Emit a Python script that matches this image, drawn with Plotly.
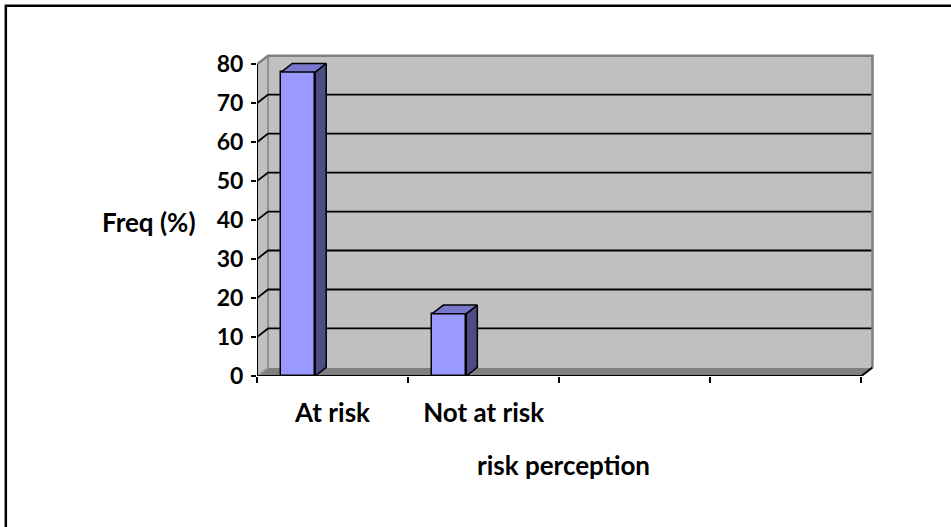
import plotly.graph_objects as go

# ---- data ----
categories = ["At risk", "Not at risk"]
freq_pct = [78, 16]
n_slots = 4
y_ticks = [0, 10, 20, 30, 40, 50, 60, 70, 80]
y_max = 80
y_title = "Freq (%)"
x_title = "risk perception"

# ---- 3D look parameters (in axis units) ----
DX = 0.073      # depth offset along x (slot units)
DY = 2.2        # depth offset along y (value units)
BAR_START = 0.16
BAR_WIDTH = 0.225

W, H = 951, 527
L_PX, B_PX = 257, 151
PX_PER_X = 151.0
PX_PER_Y = 3.894
x_hi = n_slots + DX + 0.03
y_hi = y_max + DY + 1.2
plot_w = x_hi * PX_PER_X
plot_h = y_hi * PX_PER_Y
R_PX = W - L_PX - plot_w
T_PX = H - B_PX - plot_h


def px_to_paper_x(px):
    return (px - L_PX) / plot_w


def px_to_paper_y(py):
    return (H - B_PX - py) / plot_h


def poly(pts, close=True):
    s = "M " + " L ".join(f"{x},{y}" for x, y in pts)
    return s + (" Z" if close else "")


FONT = "Lato"
FS_TICK = 23
FS_TEXT = 26
WALL = "#C0C0C0"
EDGE = "#808080"

shapes = []
# floor
shapes.append(dict(type="path", xref="x", yref="y", layer="below",
                   path=poly([(0, 0), (n_slots, 0), (n_slots + DX, DY), (DX, DY)]),
                   fillcolor=EDGE, line=dict(width=0)))
# back wall
shapes.append(dict(type="path", xref="x", yref="y", layer="below",
                   path=poly([(DX, DY), (n_slots + DX, DY), (n_slots + DX, y_max + DY), (DX, y_max + DY)]),
                   fillcolor=WALL, line=dict(width=0)))
# left wall
shapes.append(dict(type="path", xref="x", yref="y", layer="below",
                   path=poly([(0, 0), (DX, DY), (DX, y_max + DY), (0, y_max)]),
                   fillcolor=WALL, line=dict(width=0)))
# wall corner
shapes.append(dict(type="path", xref="x", yref="y", layer="below",
                   path=poly([(DX, DY), (DX, y_max + DY)], close=False),
                   line=dict(color=EDGE, width=1.5)))
# floor left diagonal
shapes.append(dict(type="path", xref="x", yref="y", layer="below",
                   path=poly([(0, 0), (DX, DY)], close=False),
                   line=dict(color="#A0A0A0", width=1.5)))
# gridlines
for v in y_ticks[1:-1]:
    shapes.append(dict(type="path", xref="x", yref="y", layer="below",
                       path=poly([(0, v), (DX, v + DY), (n_slots + DX, v + DY)], close=False),
                       line=dict(color="black", width=1.8)))
# top and right edges of the walls
shapes.append(dict(type="path", xref="x", yref="y", layer="below",
                   path=poly([(0, y_max), (DX, y_max + DY), (n_slots + DX, y_max + DY),
                              (n_slots + DX, DY)], close=False),
                   line=dict(color=EDGE, width=2.5)))
# outer border (only left and top edges fall inside the view)
shapes.append(dict(type="path", xref="paper", yref="paper",
                   path=poly([(px_to_paper_x(6), px_to_paper_y(H + 20)),
                              (px_to_paper_x(6), px_to_paper_y(6)),
                              (px_to_paper_x(W + 20), px_to_paper_y(6))], close=False),
                   line=dict(color="black", width=2.5)))

fig = go.Figure()

# bar front faces
centers = [i + 0.5 for i in range(len(categories))]
fig.add_trace(go.Bar(
    x=centers, y=freq_pct, base=0,
    offset=BAR_START - 0.5, width=BAR_WIDTH,
    marker=dict(color="#9999FF", line=dict(color="black", width=1.5)),
    hoverinfo="skip", showlegend=False,
))

# side and top faces
for i, v in enumerate(freq_pct):
    x0 = i + BAR_START
    x1 = x0 + BAR_WIDTH
    fig.add_trace(go.Scatter(
        x=[x1, x1 + DX, x1 + DX, x1, x1], y=[0, DY, v + DY, v, 0],
        fill="toself", fillcolor="#4D4D85", mode="lines",
        line=dict(color="black", width=1.5), hoverinfo="skip", showlegend=False))
    fig.add_trace(go.Scatter(
        x=[x0, x1, x1 + DX, x0 + DX, x0], y=[v, v, v + DY, v + DY, v],
        fill="toself", fillcolor="#7777CC", mode="lines",
        line=dict(color="black", width=1.5), hoverinfo="skip", showlegend=False))

# front axis lines
fig.add_trace(go.Scatter(x=[0, 0], y=[0, y_max], mode="lines",
                         line=dict(color="black", width=2), cliponaxis=False,
                         hoverinfo="skip", showlegend=False))
fig.add_trace(go.Scatter(x=[0, n_slots, n_slots + DX], y=[0, 0, DY], mode="lines",
                         line=dict(color="black", width=2), cliponaxis=False,
                         hoverinfo="skip", showlegend=False))

fig.update_layout(
    width=W, height=H,
    margin=dict(l=L_PX, r=R_PX, t=T_PX, b=B_PX, pad=0, autoexpand=False),
    paper_bgcolor="white", plot_bgcolor="white",
    shapes=shapes, showlegend=False, bargap=0,
    font=dict(family=FONT, size=FS_TEXT, color="black", weight="bold"),
    xaxis=dict(range=[0, x_hi], showgrid=False, zeroline=False, showline=False,
               tickmode="array", tickvals=centers, ticktext=categories,
               ticks="", ticklabelstandoff=19,
               tickfont=dict(family=FONT, size=FS_TEXT, color="black", weight="bold"),
               minor=dict(tickmode="array", tickvals=list(range(n_slots + 1)),
                          ticks="outside", ticklen=6, tickwidth=2, tickcolor="black",
                          showgrid=False),
               fixedrange=True),
    yaxis=dict(range=[0, y_hi], showgrid=False, zeroline=False, showline=False,
               tickmode="array", tickvals=y_ticks,
               ticks="outside", ticklen=5, tickwidth=2, tickcolor="black",
               ticklabelstandoff=3,
               tickfont=dict(family=FONT, size=FS_TICK, color="black", weight="bold"),
               fixedrange=True),
    annotations=[
        dict(text=y_title, xref="paper", yref="paper",
             x=px_to_paper_x(149), y=px_to_paper_y(222),
             xanchor="center", yanchor="middle", showarrow=False,
             font=dict(family=FONT, size=FS_TEXT, color="black", weight="bold")),
        dict(text=x_title, xref="paper", yref="paper",
             x=px_to_paper_x(563), y=px_to_paper_y(465),
             xanchor="center", yanchor="middle", showarrow=False,
             font=dict(family=FONT, size=FS_TEXT, color="black", weight="bold")),
    ],
)

fig.write_html("out.html", config={"displayModeBar": False},
               post_script="document.body.style.margin='0';")
